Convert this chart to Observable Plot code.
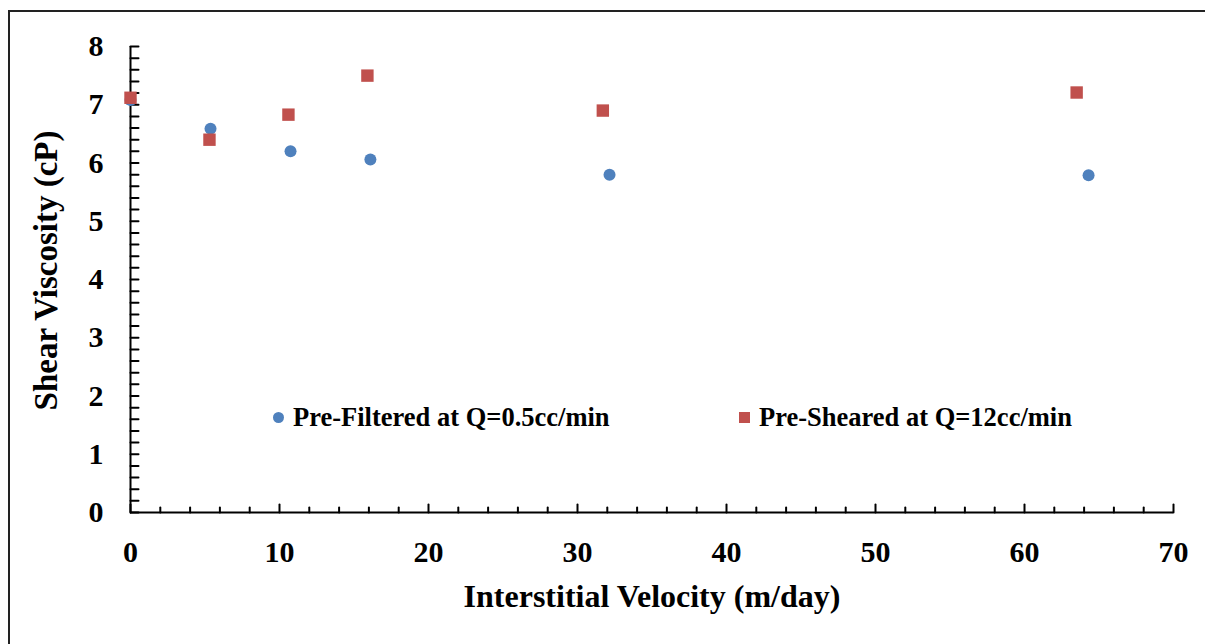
<!DOCTYPE html>
<html><head><meta charset="utf-8">
<script src="https://cdn.jsdelivr.net/npm/d3@7"></script>
<script src="https://cdn.jsdelivr.net/npm/@observablehq/plot@0.6"></script>
<style>
body{margin:0;background:#fff;}
#wrap{position:relative;width:1205px;height:644px;overflow:hidden;font-family:"Liberation Serif","Times New Roman",serif;font-weight:bold;background:#fff;}
#border{position:absolute;left:8px;top:10px;width:1300px;height:800px;border:2px solid #222;box-sizing:border-box;}
#chart{position:absolute;left:0;top:0;}
.legend{position:absolute;top:402px;height:30px;line-height:30px;font-size:26.5px;display:flex;align-items:center;white-space:nowrap;color:#000;}
.sw{display:inline-block;flex:none;}
</style></head>
<body><div id="wrap"><div id="border"></div><div id="chart"></div>
<div class="legend" style="left:273px"><span class="sw" style="width:11px;height:11px;border-radius:50%;background:#4F81BD;margin-right:9px"></span><span id="lab1"></span></div>
<div class="legend" style="left:739px"><span class="sw" style="width:11px;height:11px;background:#C0504D;margin-right:9px"></span><span id="lab2"></span></div>
</div>
<script>
// Series names
const seriesNames = ["Pre-Filtered at Q=0.5cc/min", "Pre-Sheared at Q=12cc/min"];
// Pre-Filtered series
const velocityFiltered = [0, 5.37, 10.74, 16.1, 32.15, 64.3];
const viscosityFiltered = [7.08, 6.59, 6.20, 6.06, 5.80, 5.79];
// Pre-Sheared series
const velocitySheared = [0, 5.3, 10.6, 15.9, 31.7, 63.5];
const viscositySheared = [7.12, 6.40, 6.83, 7.50, 6.90, 7.21];
// Axis ticks
const xMajorTicks = [0, 10, 20, 30, 40, 50, 60, 70];
const xMinorTicks = [2, 4, 6, 8, 12, 14, 16, 18, 22, 24, 26, 28, 32, 34, 36, 38, 42, 44, 46, 48, 52, 54, 56, 58, 62, 64, 66, 68];
const yMajorTicks = [0, 1, 2, 3, 4, 5, 6, 7, 8];
const yAllTicks = [0,0.2,0.4,0.6,0.8,1,1.2,1.4,1.6,1.8,2,2.2,2.4,2.6,2.8,3,3.2,3.4,3.6,3.8,4,4.2,4.4,4.6,4.8,5,5.2,5.4,5.6,5.8,6,6.2,6.4,6.6,6.8,7,7.2,7.4,7.6,7.8,8];
const xTitle = "Interstitial Velocity (m/day)";
const yTitle = "Shear Viscosity (cP)";

const filtered = velocityFiltered.map((v, i) => ({x: v, y: viscosityFiltered[i]}));
const sheared = velocitySheared.map((v, i) => ({x: v, y: viscositySheared[i]}));

const tickShape = {draw(context, l) { context.moveTo(0, 0); context.lineTo(0, -l); }};

const chart = Plot.plot({
  width: 1205,
  height: 644,
  marginTop: 46,
  marginLeft: 130,
  marginRight: 32,
  marginBottom: 132,
  style: {fontFamily: '"Liberation Serif","Times New Roman",serif', fontWeight: "bold", fontSize: "30px", color: "#000", background: "transparent", overflow: "visible"},
  x: {domain: [0, 70]},
  y: {domain: [0, 8]},
  marks: [
    Plot.axisX({ticks: xMajorTicks, tickSize: 0, tickPadding: 28, tickFormat: d => d, label: null, fontSize: 30, fontWeight: "bold"}),
    Plot.axisY({ticks: yMajorTicks, tickSize: 0, tickPadding: 27, tickFormat: d => d, label: null, fontSize: 30, fontWeight: "bold"}),
    Plot.vector(xMinorTicks, {x: d => d, frameAnchor: "bottom", length: 5, rotate: 0, anchor: "start", shape: tickShape, stroke: "#000", strokeWidth: 2}),
    Plot.vector(xMajorTicks, {x: d => d, frameAnchor: "bottom", length: 8, rotate: 0, anchor: "start", shape: tickShape, stroke: "#000", strokeWidth: 2}),
    Plot.vector(yAllTicks, {y: d => d, frameAnchor: "left", length: 8, rotate: 90, anchor: "start", shape: tickShape, stroke: "#000", strokeWidth: 2}),
    Plot.ruleY([0], {stroke: "#000", strokeWidth: 2}),
    Plot.ruleX([0], {stroke: "#000", strokeWidth: 2}),
    Plot.dot(filtered, {x: "x", y: "y", r: 6, fill: "#4F81BD", stroke: null, symbol: "circle"}),
    Plot.dot(sheared, {x: "x", y: "y", r: 7, fill: "#C0504D", stroke: null, symbol: "square"}),
    Plot.text([xTitle], {text: d => d, frameAnchor: "bottom", dy: 84, lineAnchor: "middle", textAnchor: "middle", fontSize: 32, fontWeight: "bold", fill: "#000"}),
    Plot.text([yTitle], {text: d => d, frameAnchor: "left", dx: -84, dy: -9, rotate: -90, lineAnchor: "middle", textAnchor: "middle", fontSize: 33, fontWeight: "bold", fill: "#000"})
  ]
});
document.getElementById("chart").appendChild(chart);
document.getElementById("lab1").textContent = seriesNames[0];
document.getElementById("lab2").textContent = seriesNames[1];
</script>
</body></html>
